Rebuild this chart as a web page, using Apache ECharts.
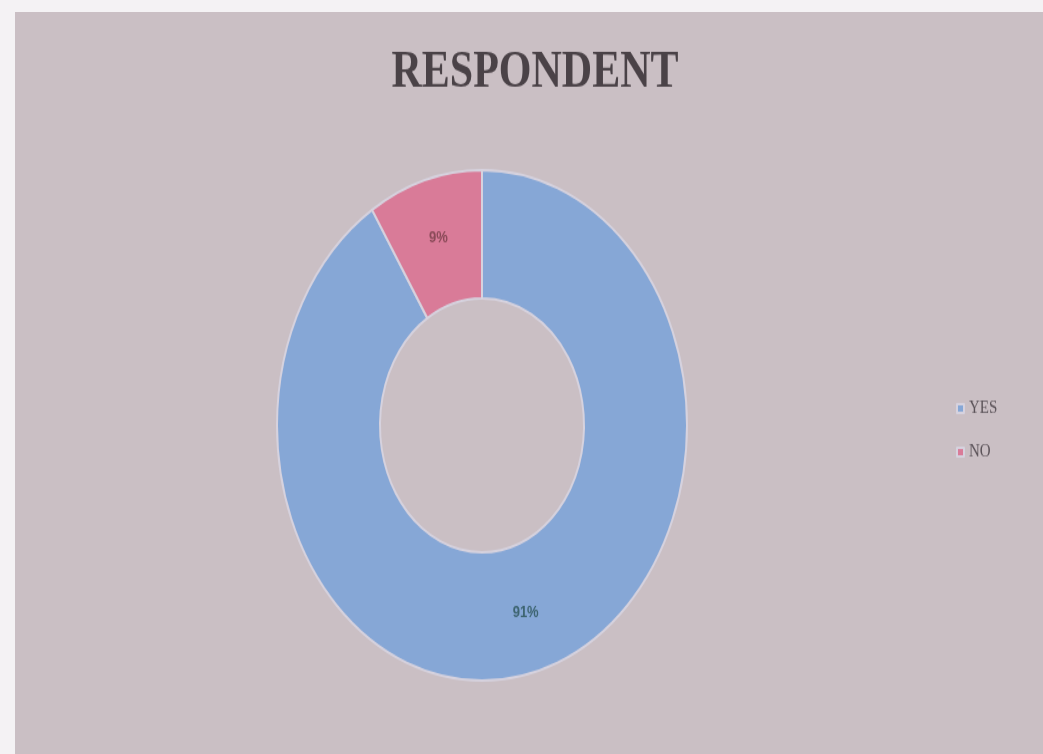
<!DOCTYPE html>
<html>
<head>
<meta charset="utf-8">
<script src="https://cdn.jsdelivr.net/npm/echarts@6/dist/echarts.min.js"></script>
<style>
  html, body { margin: 0; padding: 0; width: 1043px; height: 754px; background: #f4f2f4; overflow: hidden; }
  #chart { position: absolute; left: 15px; top: 12px; width: 1028px; height: 596px;
           transform: scaleY(1.245); transform-origin: 0 0; }
</style>
</head>
<body>
<div id="chart"></div>
<script>
const titleText = 'RESPONDENT';
const categories = ['YES', 'NO'];
const values = [91, 9];
const colors = ['#86a7d6', '#d97b98'];
const labelColors = ['#3d6470', '#8a4a58'];

const chart = echarts.init(document.getElementById('chart'), null, { renderer: 'canvas' });
chart.setOption({
  backgroundColor: '#cabfc4',
  animation: false,
  title: {
    text: titleText,
    left: 515, top: 23, textAlign: 'center',
    textStyle: { fontFamily: 'Liberation Serif', fontWeight: 'bold', fontSize: 42, color: '#4a4247' }
  },
  legend: {
    orient: 'vertical',
    left: 936, top: 306,
    itemWidth: 7, itemHeight: 7, itemGap: 20, icon: 'rect',
    textStyle: { fontFamily: 'Liberation Serif', fontSize: 15, color: '#5a5258' },
    data: categories
  },
  series: [{
    type: 'pie',
    center: [467, 332],
    radius: [102, 205],
    startAngle: 90,
    clockwise: true,
    avoidLabelOverlap: false,
    label: {
      show: true, position: 'inside',
      formatter: '{d}%',
      fontFamily: 'Liberation Sans', fontSize: 13, fontWeight: 'bold'
    },
    labelLine: { show: false },
    itemStyle: { borderColor: '#d6d2de', borderWidth: 2 },
    data: categories.map((c, i) => ({
      name: c, value: values[i],
      itemStyle: { color: colors[i] },
      label: { color: labelColors[i] }
    }))
  }]
});
</script>
</body>
</html>
